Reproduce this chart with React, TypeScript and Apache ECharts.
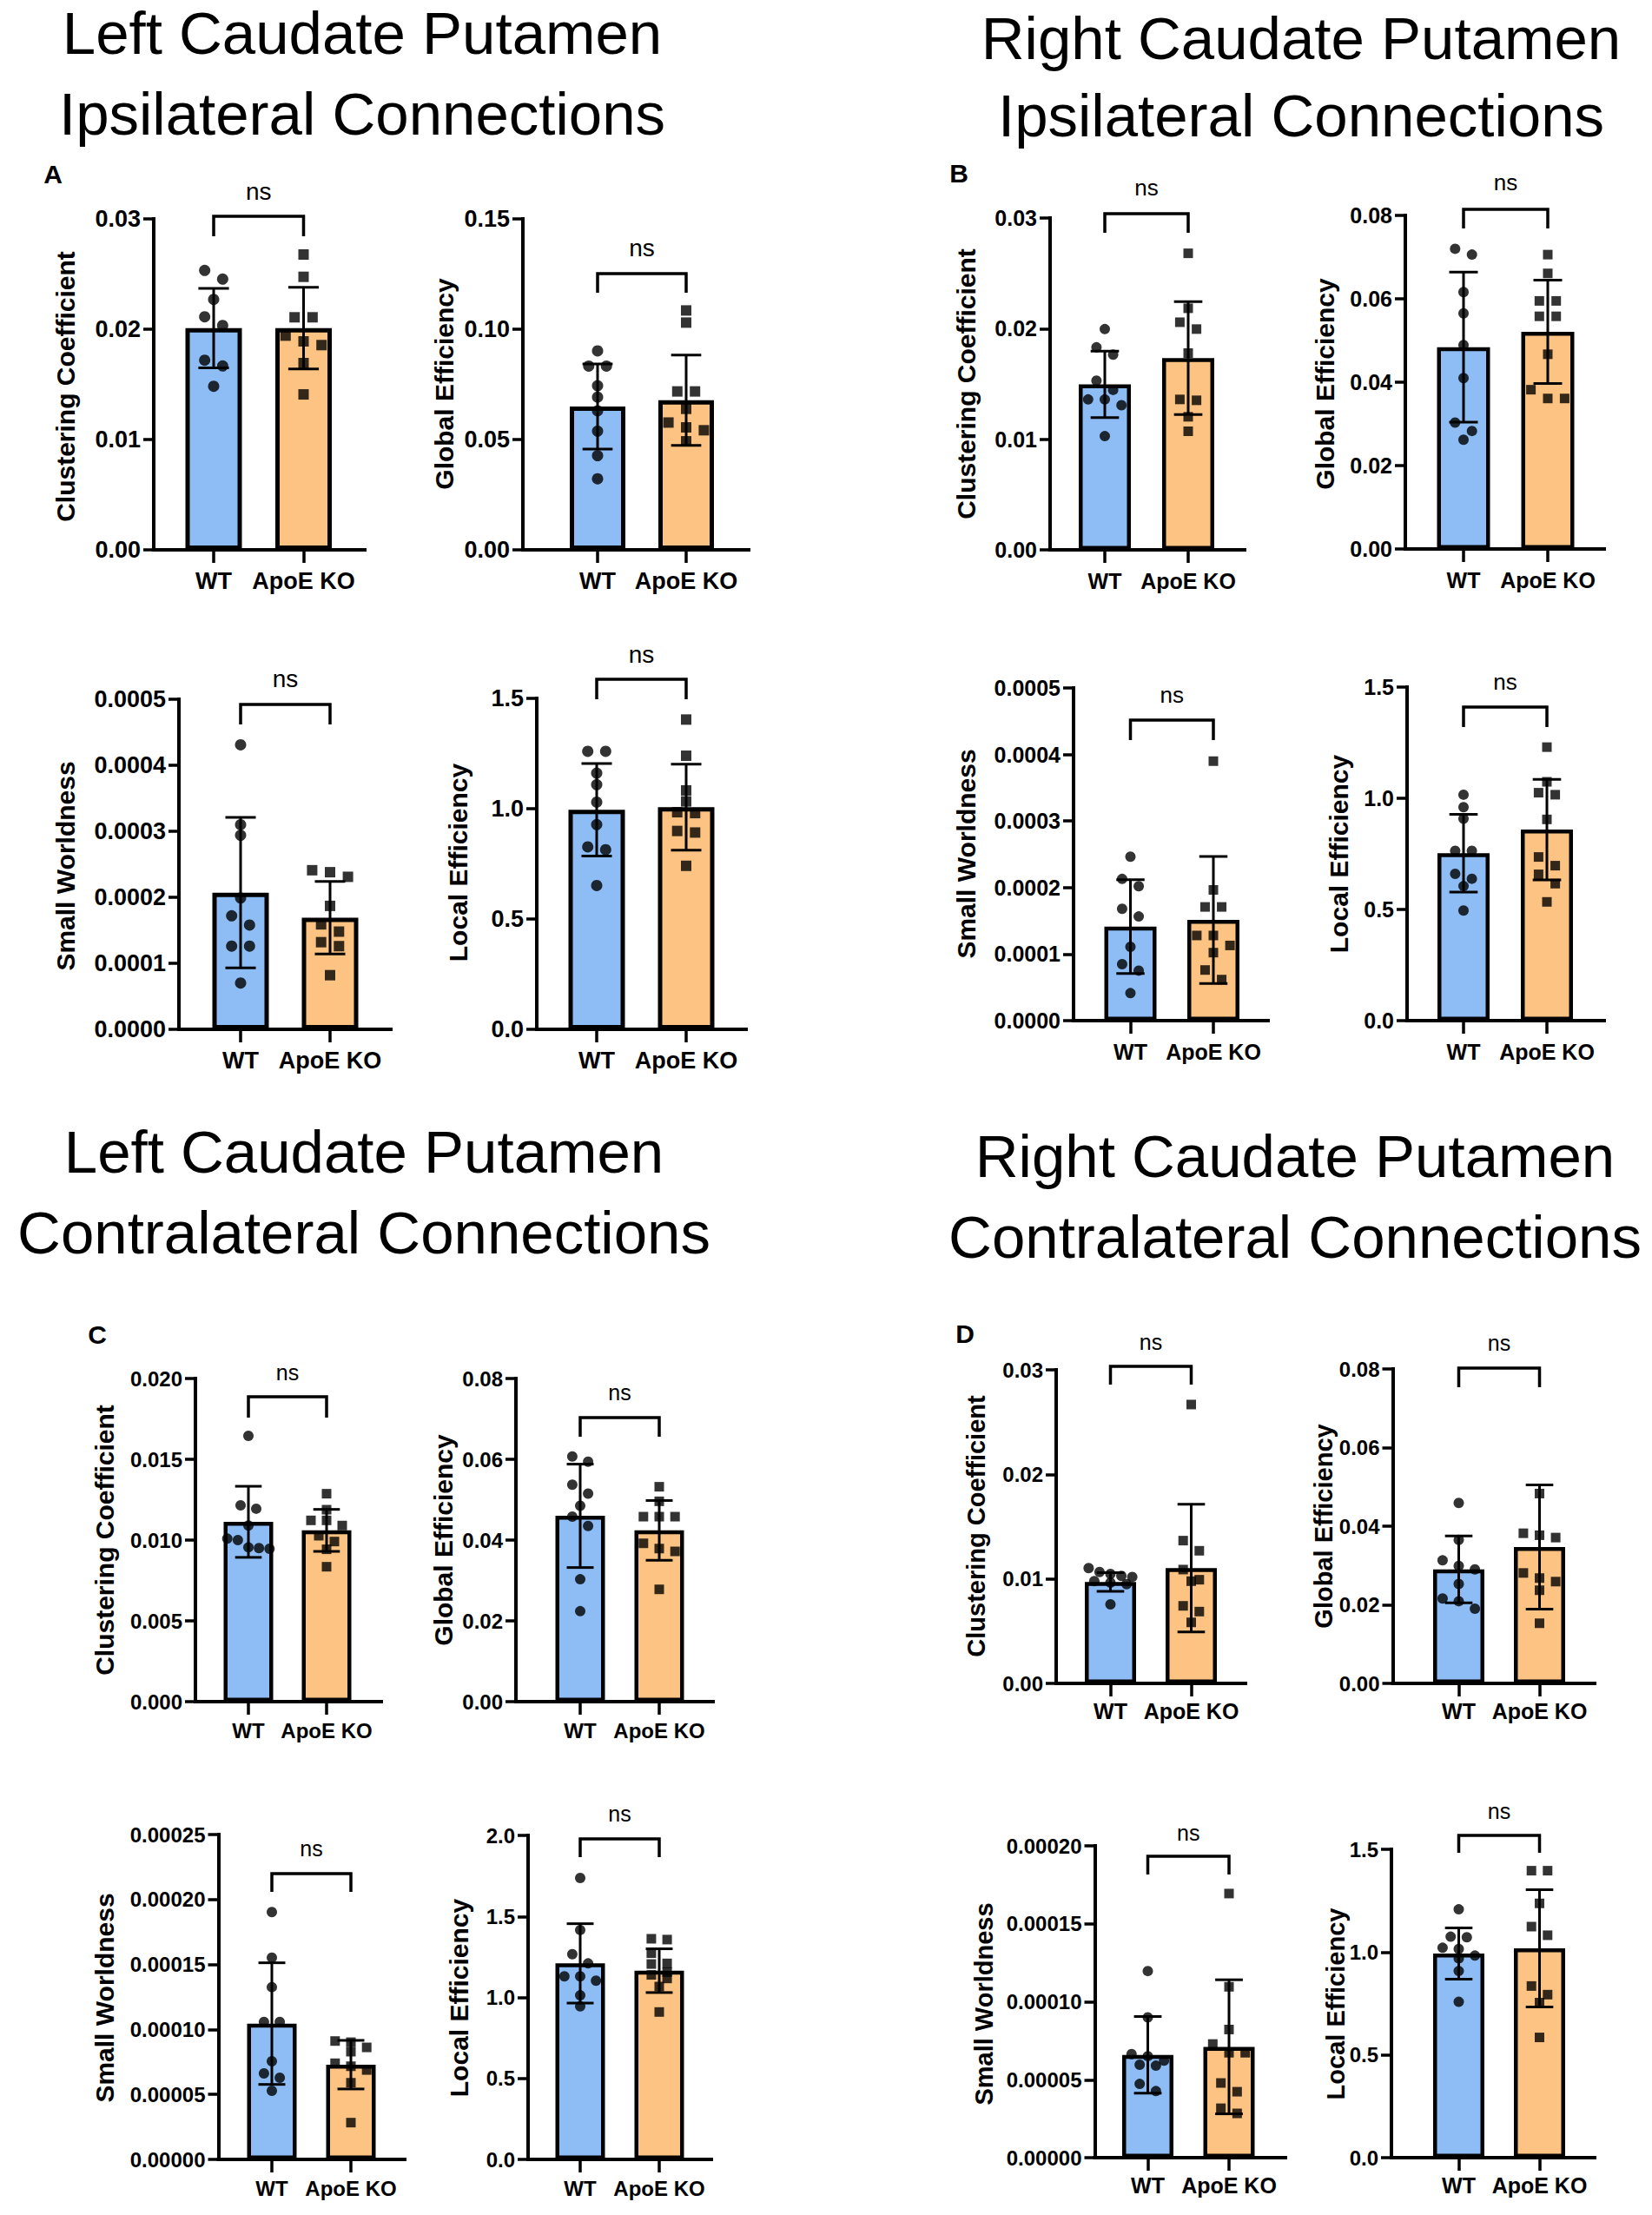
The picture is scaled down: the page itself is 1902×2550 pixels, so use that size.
import React, { useEffect, useRef } from "react";
import * as echarts from "echarts";

// ---------- data ----------
const GROUPS = ["WT", "ApoE KO"];

// A: Left Caudate Putamen, ipsilateral
const A1_WT = [0.02533, 0.02454, 0.0227, 0.02113, 0.02034, 0.01719, 0.01667, 0.01483];
const A1_KO = [0.02677, 0.02475, 0.02108, 0.02108, 0.01942, 0.0189, 0.01856, 0.01693, 0.01409];
const A1_MEAN = [0.0201, 0.0201];
const A1_SD = [0.0036, 0.0037];

const A2_WT = [0.0902, 0.0833, 0.0833, 0.0744, 0.0692, 0.063, 0.0538, 0.0427, 0.0322];
const A2_KO = [0.1085, 0.103, 0.0718, 0.0718, 0.0639, 0.0577, 0.0555, 0.0542, 0.0492];
const A2_MEAN = [0.065, 0.0678];
const A2_SD = [0.0193, 0.0205];

const A3_WT = [0.000431, 0.00031, 0.000294, 0.000199, 0.000172, 0.000158, 0.000126, 0.000126, 0.0000702];
const A3_KO = [0.000241, 0.000238, 0.000231, 0.000187, 0.000159, 0.000148, 0.000132, 0.000126, 0.000082];
const A3_MEAN = [0.000207, 0.000169];
const A3_SD = [0.000114, 0.000055];

const A4_WT = [1.26, 1.26, 1.161, 1.109, 1.03, 0.928, 0.827, 0.814, 0.652];
const A4_KO = [1.404, 1.24, 1.083, 1.033, 0.984, 0.98, 0.899, 0.892, 0.741];
const A4_MEAN = [0.995, 1.007];
const A4_SD = [0.21, 0.195];

// B: Right Caudate Putamen, ipsilateral
const B1_WT = [0.01996, 0.01831, 0.01765, 0.0153, 0.01446, 0.0136, 0.0136, 0.01308, 0.01028];
const B1_KO = [0.02681, 0.02184, 0.02058, 0.01996, 0.01779, 0.0136, 0.01352, 0.01203, 0.01072];
const B1_MEAN = [0.01496, 0.01734];
const B1_SD = [0.003, 0.0051];

const B2_WT = [0.072, 0.0706, 0.0616, 0.0565, 0.0489, 0.041, 0.0303, 0.0283, 0.0262];
const B2_KO = [0.0706, 0.0661, 0.0595, 0.0595, 0.0558, 0.0558, 0.0467, 0.0382, 0.0361, 0.0361];
const B2_MEAN = [0.0484, 0.0521];
const B2_SD = [0.018, 0.0124];

const B3_WT = [0.0002465, 0.000213, 0.000202, 0.000168, 0.0001565, 0.0001109, 0.0000848, 0.0000752, 0.0000413];
const B3_KO = [0.00039, 0.0001965, 0.0001709, 0.0001709, 0.000128, 0.000128, 0.000113, 0.0001022, 0.0000761, 0.0000617];
const B3_MEAN = [0.0001413, 0.0001513];
const B3_SD = [0.0000705, 0.0000955];

const B4_WT = [1.016, 0.96, 0.908, 0.764, 0.764, 0.66, 0.638, 0.605, 0.495];
const B4_KO = [1.23, 1.074, 1.025, 1.016, 0.905, 0.736, 0.697, 0.658, 0.616, 0.534];
const B4_MEAN = [0.753, 0.859];
const B4_SD = [0.175, 0.226];

// C: Left Caudate Putamen, contralateral
const C1_WT = [0.01645, 0.01215, 0.01194, 0.0109, 0.01009, 0.01, 0.00955, 0.0095, 0.00946];
const C1_KO = [0.01287, 0.01188, 0.01122, 0.01122, 0.0109, 0.01027, 0.00991, 0.00943, 0.00835];
const C1_MEAN = [0.01113, 0.0106];
const C1_SD = [0.0022, 0.0013];

const C2_WT = [0.0607, 0.0594, 0.0537, 0.0515, 0.0485, 0.0458, 0.0435, 0.0303, 0.0224];
const C2_KO = [0.0532, 0.0496, 0.0458, 0.0458, 0.0458, 0.0392, 0.0379, 0.0372, 0.0278];
const C2_MEAN = [0.046, 0.0424];
const C2_SD = [0.0128, 0.0074];

const C3_WT = [0.0001903, 0.0001553, 0.0001326, 0.0001058, 0.0001058, 0.0000755, 0.0000662, 0.0000628, 0.0000528];
const C3_KO = [0.0000911, 0.0000902, 0.0000862, 0.0000829, 0.000074, 0.0000717, 0.0000688, 0.000059, 0.0000283];
const C3_MEAN = [0.0001045, 0.0000729];
const C3_SD = [0.0000468, 0.0000187];

const C4_WT = [1.737, 1.416, 1.267, 1.21, 1.13, 1.13, 1.103, 1.013, 0.945];
const C4_KO = [1.362, 1.357, 1.273, 1.21, 1.206, 1.156, 1.139, 1.117, 1.067, 0.91];
const C4_MEAN = [1.21, 1.165];
const C4_SD = [0.245, 0.135];

// D: Right Caudate Putamen, contralateral
const D1_WT = [0.01103, 0.01066, 0.01047, 0.01028, 0.01019, 0.00978, 0.00964, 0.0095, 0.00756];
const D1_KO = [0.02668, 0.01366, 0.01269, 0.01089, 0.00992, 0.00978, 0.00742, 0.00687, 0.00584];
const D1_MEAN = [0.0097, 0.01103];
const D1_SD = [0.0009, 0.0061];

const D2_WT = [0.0459, 0.0365, 0.0313, 0.0299, 0.029, 0.0253, 0.0216, 0.0209, 0.019];
const D2_KO = [0.0483, 0.0382, 0.0377, 0.0371, 0.0281, 0.0268, 0.0259, 0.0237, 0.0153];
const D2_MEAN = [0.029, 0.0347];
const D2_SD = [0.0085, 0.0158];

const D3_WT = [0.0001197, 0.00009, 0.0000664, 0.0000651, 0.0000622, 0.0000596, 0.000059, 0.0000473, 0.0000427];
const D3_KO = [0.0001694, 0.0001096, 0.0000822, 0.0000729, 0.0000673, 0.0000673, 0.0000479, 0.0000423, 0.0000317, 0.0000284];
const D3_MEAN = [0.0000659, 0.0000711];
const D3_SD = [0.0000246, 0.000043];

const D4_WT = [1.208, 1.075, 1.072, 1.021, 1.015, 0.983, 0.969, 0.908, 0.758];
const D4_KO = [1.396, 1.396, 1.237, 1.124, 1.082, 0.835, 0.793, 0.754, 0.585];
const D4_MEAN = [0.993, 1.018];
const D4_SD = [0.125, 0.285];

const CC = "Clustering Coefficient";
const GE = "Global Efficiency";
const SW = "Small Worldness";
const LE = "Local Efficiency";

const PANELS = [
  { q: 0, wt: A1_WT, ko: A1_KO, mean: A1_MEAN, sd: A1_SD, ymax: 0.03, step: 0.01, dec: 2, name: CC },
  { q: 0, wt: A2_WT, ko: A2_KO, mean: A2_MEAN, sd: A2_SD, ymax: 0.15, step: 0.05, dec: 2, name: GE },
  { q: 0, wt: A3_WT, ko: A3_KO, mean: A3_MEAN, sd: A3_SD, ymax: 0.0005, step: 0.0001, dec: 4, name: SW },
  { q: 0, wt: A4_WT, ko: A4_KO, mean: A4_MEAN, sd: A4_SD, ymax: 1.5, step: 0.5, dec: 1, name: LE },
  { q: 1, wt: B1_WT, ko: B1_KO, mean: B1_MEAN, sd: B1_SD, ymax: 0.03, step: 0.01, dec: 2, name: CC },
  { q: 1, wt: B2_WT, ko: B2_KO, mean: B2_MEAN, sd: B2_SD, ymax: 0.08, step: 0.02, dec: 2, name: GE },
  { q: 1, wt: B3_WT, ko: B3_KO, mean: B3_MEAN, sd: B3_SD, ymax: 0.0005, step: 0.0001, dec: 4, name: SW },
  { q: 1, wt: B4_WT, ko: B4_KO, mean: B4_MEAN, sd: B4_SD, ymax: 1.5, step: 0.5, dec: 1, name: LE },
  { q: 2, wt: C1_WT, ko: C1_KO, mean: C1_MEAN, sd: C1_SD, ymax: 0.02, step: 0.005, dec: 3, name: CC },
  { q: 2, wt: C2_WT, ko: C2_KO, mean: C2_MEAN, sd: C2_SD, ymax: 0.08, step: 0.02, dec: 2, name: GE },
  { q: 2, wt: C3_WT, ko: C3_KO, mean: C3_MEAN, sd: C3_SD, ymax: 0.00025, step: 0.00005, dec: 5, name: SW },
  { q: 2, wt: C4_WT, ko: C4_KO, mean: C4_MEAN, sd: C4_SD, ymax: 2.0, step: 0.5, dec: 1, name: LE },
  { q: 3, wt: D1_WT, ko: D1_KO, mean: D1_MEAN, sd: D1_SD, ymax: 0.03, step: 0.01, dec: 2, name: CC },
  { q: 3, wt: D2_WT, ko: D2_KO, mean: D2_MEAN, sd: D2_SD, ymax: 0.08, step: 0.02, dec: 2, name: GE },
  { q: 3, wt: D3_WT, ko: D3_KO, mean: D3_MEAN, sd: D3_SD, ymax: 0.0002, step: 0.00005, dec: 5, name: SW },
  { q: 3, wt: D4_WT, ko: D4_KO, mean: D4_MEAN, sd: D4_SD, ymax: 1.5, step: 0.5, dec: 1, name: LE },
];

const TITLES = [
  ["Left Caudate Putamen", "Ipsilateral Connections"],
  ["Right Caudate Putamen", "Ipsilateral Connections"],
  ["Left Caudate Putamen", "Contralateral Connections"],
  ["Right Caudate Putamen", "Contralateral Connections"],
];
const LETTERS = ["A", "B", "C", "D"];

// ---------- layout (pixels) ----------
const LAYOUT = [
  { L: 177, R: 420, T: 252, B: 633, c1: 246, c2: 349.5, brY: 249, brB: 272, nsY: 222, tx: 75, ty: 445 },
  { L: 602, R: 862, T: 252, B: 633, c1: 688, c2: 790, brY: 315, brB: 337, nsY: 287, tx: 511, ty: 442 },
  { L: 206, R: 450, T: 805, B: 1185, c1: 277, c2: 380, brY: 811, brB: 834, nsY: 783, tx: 75, ty: 997 },
  { L: 618, R: 859, T: 804, B: 1185, c1: 687, c2: 790, brY: 782, brB: 805, nsY: 755, tx: 527, ty: 993 },
  { L: 1209, R: 1433, T: 251, B: 633, c1: 1272, c2: 1368, brY: 246, brB: 268, nsY: 218, tx: 1112, ty: 442 },
  { L: 1618, R: 1847, T: 248, B: 632, c1: 1685, c2: 1782, brY: 241, brB: 263, nsY: 212, tx: 1525, ty: 442 },
  { L: 1236, R: 1460, T: 792, B: 1175, c1: 1301.5, c2: 1397, brY: 829, brB: 852, nsY: 802, tx: 1112, ty: 983 },
  { L: 1620, R: 1847, T: 791, B: 1175, c1: 1685, c2: 1781, brY: 814, brB: 837, nsY: 787, tx: 1541, ty: 983 },
  { L: 225, R: 439, T: 1587, B: 1959, c1: 286, c2: 376, brY: 1608, brB: 1632, nsY: 1582, tx: 120, ty: 1773 },
  { L: 594, R: 821, T: 1587, B: 1959, c1: 668, c2: 759, brY: 1632, brB: 1654, nsY: 1605, tx: 510, ty: 1773 },
  { L: 251.5, R: 466, T: 2112, B: 2486, c1: 313, c2: 404, brY: 2157, brB: 2178, nsY: 2130, tx: 120, ty: 2300 },
  { L: 608, R: 819, T: 2113, B: 2486, c1: 668, c2: 759, brY: 2117, brB: 2138, nsY: 2090, tx: 528, ty: 2300 },
  { L: 1216, R: 1434, T: 1577, B: 1938, c1: 1278.5, c2: 1371.5, brY: 1573, brB: 1594, nsY: 1547, tx: 1124, ty: 1757 },
  { L: 1603.5, R: 1836, T: 1576, B: 1938, c1: 1679.5, c2: 1772.5, brY: 1575, brB: 1597, nsY: 1548, tx: 1524, ty: 1757 },
  { L: 1260.5, R: 1480, T: 2125, B: 2484, c1: 1321.5, c2: 1415, brY: 2137, brB: 2158, nsY: 2112, tx: 1133, ty: 2307 },
  { L: 1602, R: 1836, T: 2129, B: 2484, c1: 1679.5, c2: 1772.5, brY: 2113, brB: 2133, nsY: 2087, tx: 1538, ty: 2307 },
];

const TITLE_POS = [
  { x: 417, y: [38, 131] },
  { x: 1498, y: [44, 133] },
  { x: 419, y: [1326, 1419] },
  { x: 1491, y: [1331, 1424] },
];
const LETTER_POS = [
  { x: 61, y: 200 },
  { x: 1104, y: 199 },
  { x: 112, y: 1536 },
  { x: 1111, y: 1535 },
];

const QSTYLE = [
  { tick: 27, cat: 27, ns: 28, title: 30, dot: 13, sq: 12, axisW: 4, barB: 5, labM: 22 },
  { tick: 25, cat: 25, ns: 26, title: 30, dot: 12, sq: 11, axisW: 4, barB: 4.5, labM: 23 },
  { tick: 24, cat: 24, ns: 25, title: 30, dot: 12, sq: 11, axisW: 4, barB: 4.5, labM: 21 },
  { tick: 24, cat: 25, ns: 25, title: 29, dot: 12, sq: 11, axisW: 4, barB: 4.5, labM: 19 },
];

const BLUE = "#8EBDF6";
const ORANGE = "#FDC383";
const FONT = "'Liberation Sans', Arial, sans-serif";

// beeswarm-like horizontal spreading of points whose vertical positions collide
function swarm(vals: number[], g: number, ppu: number, spacing: number, thr: number, stepPx: number) {
  const sorted = [...vals].sort((a, b) => b - a);
  const out: number[][] = [];
  let i = 0;
  while (i < sorted.length) {
    let j = i + 1;
    while (j < sorted.length && (sorted[i] - sorted[j]) * ppu < thr) j++;
    const n = j - i;
    let st = stepPx;
    const cap = 0.27 * spacing;
    if (n > 1 && ((n - 1) / 2) * st > cap) st = cap / ((n - 1) / 2);
    for (let k = 0; k < n; k++) out.push([g + ((k - (n - 1) / 2) * st) / spacing, sorted[i + k]]);
    i = j;
  }
  return out;
}

function buildOption() {
  const grid: any[] = [];
  const xAxis: any[] = [];
  const yAxis: any[] = [];
  const series: any[] = [];
  const graphic: any[] = [];

  PANELS.forEach((p, i) => {
    const lay = LAYOUT[i];
    const qs = QSTYLE[p.q];
    const spacing = lay.c2 - lay.c1;
    const xmin = -(lay.c1 - lay.L) / spacing;
    const xmax = 1 + (lay.R - lay.c2) / spacing;
    const ppu = (lay.B - lay.T) / p.ymax;

    grid.push({ left: lay.L, top: lay.T, width: lay.R - lay.L, height: lay.B - lay.T, containLabel: false });
    xAxis.push({
      gridIndex: i,
      type: "value",
      min: xmin,
      max: xmax,
      axisLine: { show: true, onZero: false, lineStyle: { color: "#000", width: qs.axisW, cap: "square" } },
      axisTick: { show: true, customValues: [0, 1], length: 15, lineStyle: { color: "#000", width: 3.5 } },
      axisLabel: {
        show: true,
        customValues: [0, 1],
        formatter: (v: number) => GROUPS[Math.round(v)] ?? "",
        fontSize: qs.cat,
        fontWeight: "bold",
        fontFamily: FONT,
        color: "#000",
        margin: qs.labM,
      },
      splitLine: { show: false },
    });
    yAxis.push({
      gridIndex: i,
      type: "value",
      min: 0,
      max: p.ymax,
      interval: p.step,
      axisLine: { show: true, onZero: false, lineStyle: { color: "#000", width: qs.axisW, cap: "square" } },
      axisTick: { show: true, length: 12, lineStyle: { color: "#000", width: 3.5 } },
      axisLabel: {
        formatter: (v: number) => v.toFixed(p.dec),
        fontSize: qs.tick,
        fontWeight: "bold",
        fontFamily: FONT,
        color: "#000",
        margin: 15,
      },
      splitLine: { show: false },
    });

    series.push({
      type: "bar",
      xAxisIndex: i,
      yAxisIndex: i,
      barWidth: Math.round(0.63 * spacing),
      z: 2,
      itemStyle: { borderColor: "#000", borderWidth: qs.barB },
      data: [
        { value: [0, p.mean[0]], itemStyle: { color: BLUE } },
        { value: [1, p.mean[1]], itemStyle: { color: ORANGE } },
      ],
    });

    const capPx = 0.17 * spacing;
    series.push({
      type: "custom",
      xAxisIndex: i,
      yAxisIndex: i,
      z: 3,
      clip: false,
      encode: { x: 0, y: 1 },
      data: [
        [0, p.mean[0], p.sd[0]],
        [1, p.mean[1], p.sd[1]],
      ],
      renderItem: (params: any, api: any) => {
        const x = api.value(0);
        const m = api.value(1);
        const s = api.value(2);
        const top = api.coord([x, m + s]);
        const bot = api.coord([x, m - s]);
        const st = { stroke: "#000", lineWidth: 3, fill: null };
        return {
          type: "group",
          children: [
            { type: "line", shape: { x1: top[0], y1: top[1], x2: bot[0], y2: bot[1] }, style: st },
            { type: "line", shape: { x1: top[0] - capPx, y1: top[1], x2: top[0] + capPx, y2: top[1] }, style: st },
            { type: "line", shape: { x1: bot[0] - capPx, y1: bot[1], x2: bot[0] + capPx, y2: bot[1] }, style: st },
          ],
        };
      },
    });

    const stepPx = 0.2 * spacing;
    series.push({
      type: "scatter",
      xAxisIndex: i,
      yAxisIndex: i,
      z: 4,
      symbol: "circle",
      symbolSize: qs.dot,
      itemStyle: { color: "#000" },
      data: swarm(p.wt, 0, ppu, spacing, 12, stepPx),
    });
    series.push({
      type: "scatter",
      xAxisIndex: i,
      yAxisIndex: i,
      z: 4,
      symbol: "rect",
      symbolSize: qs.sq,
      itemStyle: { color: "#000" },
      data: swarm(p.ko, 1, ppu, spacing, 12, stepPx),
    });

    // significance bracket
    graphic.push({
      type: "polyline",
      shape: {
        points: [
          [lay.c1, lay.brB],
          [lay.c1, lay.brY],
          [lay.c2, lay.brY],
          [lay.c2, lay.brB],
        ],
      },
      style: { stroke: "#000", lineWidth: 3.5, fill: null },
      z: 10,
    });
    graphic.push({
      type: "text",
      x: (lay.c1 + lay.c2) / 2,
      y: lay.nsY - 2,
      z: 10,
      style: {
        text: "ns",
        fontSize: qs.ns,
        fontFamily: FONT,
        fill: "#000",
        textAlign: "center",
        textVerticalAlign: "middle",
        align: "center",
        verticalAlign: "middle",
      },
    });
    // y axis title
    graphic.push({
      type: "text",
      x: lay.tx,
      y: lay.ty,
      rotation: Math.PI / 2,
      z: 10,
      style: {
        text: p.name,
        fontSize: qs.title,
        fontWeight: "bold",
        fontFamily: FONT,
        fill: "#000",
        textAlign: "center",
        textVerticalAlign: "middle",
        align: "center",
        verticalAlign: "middle",
      },
    });
  });

  TITLES.forEach((lines, qi) => {
    lines.forEach((t, li) => {
      graphic.push({
        type: "text",
        x: TITLE_POS[qi].x,
        y: TITLE_POS[qi].y[li],
        z: 10,
        style: {
          text: t,
          fontSize: 69,
          fontFamily: FONT,
          fill: "#000",
          textAlign: "center",
          textVerticalAlign: "middle",
          align: "center",
          verticalAlign: "middle",
        },
      });
    });
  });
  LETTERS.forEach((t, qi) => {
    graphic.push({
      type: "text",
      x: LETTER_POS[qi].x,
      y: LETTER_POS[qi].y,
      z: 10,
      style: {
        text: t,
        fontSize: 30,
        fontWeight: "bold",
        fontFamily: FONT,
        fill: "#000",
        textAlign: "center",
        textVerticalAlign: "middle",
        align: "center",
        verticalAlign: "middle",
      },
    });
  });

  return {
    animation: false,
    backgroundColor: "#fff",
    textStyle: { fontFamily: FONT },
    grid,
    xAxis,
    yAxis,
    series,
    graphic: { elements: graphic },
  };
}

export default function App() {
  const ref = useRef<HTMLDivElement>(null);
  useEffect(() => {
    if (!ref.current) return;
    const chart = echarts.init(ref.current, undefined, { renderer: "svg" });
    chart.setOption(buildOption() as any);
    return () => chart.dispose();
  }, []);
  return (
    <div
      ref={ref}
      style={{ position: "absolute", left: 0, top: 0, width: 1902, height: 2550, background: "#fff" }}
    />
  );
}
